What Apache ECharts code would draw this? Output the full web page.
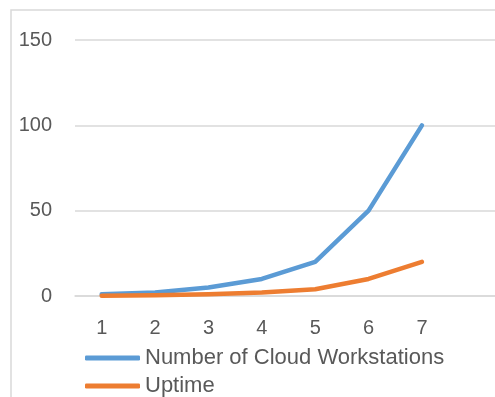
<!DOCTYPE html>
<html><head><meta charset="utf-8">
<script src="https://cdn.jsdelivr.net/npm/echarts@6/dist/echarts.min.js"></script>
<style>html,body{margin:0;padding:0;background:#fff}#c{width:495px;height:397px}</style>
</head><body><div id="c"></div>
<script>
const categories = ['1','2','3','4','5','6','7',''];
const workstations = [1, 2, 5, 10, 20, 50, 100];
const uptime = [0.2, 0.4, 1, 2, 4, 10, 20];
const yTicks = [0, 50, 100, 150];
const seriesNames = ['Number of Cloud Workstations', 'Uptime'];

const font = 'Liberation Sans';
const legendBase = {
  orient:'horizontal', left:85, padding:0, itemWidth:55, itemHeight:5, icon:'roundRect',
  textStyle:{color:'#595959', fontSize:22, fontFamily:font}
};
const chart = echarts.init(document.getElementById('c'), null, {renderer:'canvas'});
chart.setOption({
  animation: false,
  textStyle: {fontFamily: font},
  graphic: [{type:'rect', shape:{x:11, y:10, width:700, height:700}, style:{fill:'none', stroke:'#d9d9d9', lineWidth:1.5}, silent:true}],
  grid: {left:75, right:-7, top:40, bottom:101, outerBoundsMode:'none', containLabel:false},
  xAxis: {
    type:'category', data: categories, boundaryGap:true,
    axisLine:{show:true, lineStyle:{color:'#d9d9d9', width:1.5}},
    axisTick:{show:false},
    axisLabel:{color:'#595959', fontSize:20, fontFamily:font, margin:22}
  },
  yAxis: {
    type:'value', min:yTicks[0], max:yTicks[yTicks.length-1], interval:50,
    axisLine:{show:false}, axisTick:{show:false},
    splitLine:{lineStyle:{color:'#d9d9d9', width:1.5}},
    axisLabel:{color:'#595959', fontSize:20, fontFamily:font, margin:23}
  },
  legend: [
    Object.assign({}, legendBase, {top:347, data:[seriesNames[0]]}),
    Object.assign({}, legendBase, {top:375, data:[seriesNames[1]]})
  ],
  series: [
    {name:seriesNames[0], type:'line', data:workstations, symbol:'none',
     lineStyle:{color:'#5B9BD5', width:4.5, cap:'round', join:'round'}, itemStyle:{color:'#5B9BD5'}},
    {name:seriesNames[1], type:'line', data:uptime, symbol:'none',
     lineStyle:{color:'#ED7D31', width:4.5, cap:'round', join:'round'}, itemStyle:{color:'#ED7D31'}}
  ]
});
</script></body></html>
